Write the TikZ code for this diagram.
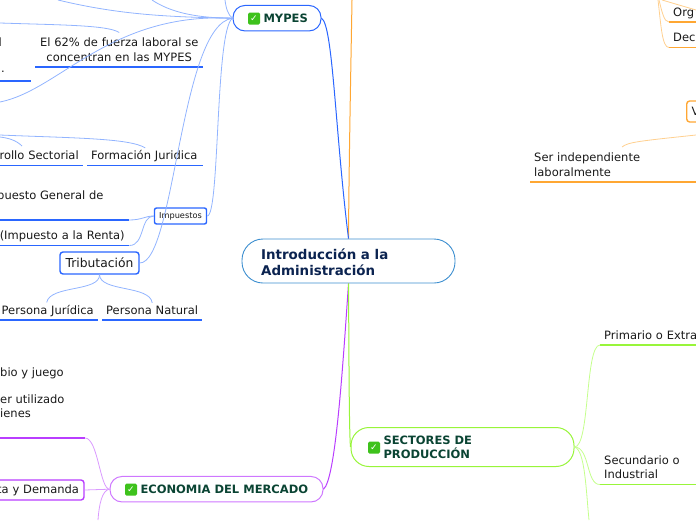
\documentclass[tikz,border=0pt]{standalone}
\usepackage{fontspec}
\setmainfont{DejaVu Sans}
\definecolor{azul}{HTML}{2A66FF}
\definecolor{azulc}{HTML}{92B4FF}
\definecolor{naranja}{HTML}{FFA733}
\definecolor{naranjac}{HTML}{FFD08F}
\definecolor{lila}{HTML}{B93DFF}
\definecolor{lilac}{HTML}{DA9AFF}
\definecolor{lima}{HTML}{98F53A}
\definecolor{limac}{HTML}{C4FF8C}
\definecolor{tinta}{HTML}{0A4433}
\definecolor{marino}{HTML}{0B2350}
\definecolor{celeste}{HTML}{3D8FD0}
\definecolor{verdechk}{HTML}{3EC21C}
\tikzset{every node/.style={inner sep=0pt,text=black!90,font=\fontsize{11.5}{14.2}\selectfont}}
\tikzset{rama/.style={rectangle,rounded corners=12pt,line width=1pt,fill=white,
    font=\fontsize{11.5}{14}\selectfont\bfseries,text=tinta}}
\tikzset{caja/.style={rectangle,rounded corners=3pt,line width=1.4pt,fill=white}}
\tikzset{hoja/.style={anchor=south west,inner xsep=3pt,inner ysep=2.5pt,text depth=3pt,text width=#1-6pt,align=left}}
\tikzset{hojad/.style={hoja=#1,align=right,inner xsep=4.5pt,text width=#1-9pt}}
\tikzset{hojados/.style={hoja=#1,inner ysep=5.5pt,text depth={}}}
\tikzset{chk/.style={rectangle,rounded corners=1.5pt,fill=verdechk,text=white,
    minimum size=12pt,font=\fontsize{9}{9}\selectfont}}
\tikzset{enlace/.style={line width=.8pt}}
\tikzset{raya/.style={line width=1.9pt}}

\begin{document}
\begin{tikzpicture}[x=1pt,y=-1pt]
  \useasboundingbox (0,0) rectangle (696,520);
  \clip (0,0) rectangle (696,520);
      % centro y ramas
      \node[rectangle,rounded corners=21pt,draw=celeste,line width=.9pt,fill=white,
        minimum width=213pt,minimum height=44pt] (raiz) at (348.5,261) {};
      \node[anchor=west,align=left,font=\fontsize{13.4}{16}\selectfont\bfseries,text=marino] (titulo) at (261,262) {Introducción a la\\Administración};
      \node[rama,draw=azul,minimum width=88pt,minimum height=25.5pt] (mypes) at (277,18.2) {};
      \node[chk] (chkm) at (254,18.5) {✓};
      \node[rama,anchor=west,draw=none,fill=none] (tmypes) at (263,18.5) {MYPES};
      \node[rama,draw=lila!70,minimum width=213pt,minimum height=25.5pt] (econ) at (216.5,489.2) {};
      \node[chk] (chke) at (131,489.5) {✓};
      \node[rama,anchor=west,draw=none,fill=none] (tecon) at (140,489.5) {ECONOMIA DEL MERCADO};
      \node[rama,rounded corners=18pt,draw=lima,minimum width=223pt,minimum height=39pt] (sect) at (462.5,447) {};
      \node[chk] (chks) at (374,447.5) {✓};
      \node[rama,anchor=west,draw=none,fill=none,align=left] (tsect) at (383,447.5) {SECTORES DE\\PRODUCCIÓN};
      % azul
      \node[hojados=168pt,align=center] (fuerza) at (35,67) {El 62\% de fuerza laboral se\\concentran en las MYPES};
      \node[hoja=33pt,inner ysep=5pt] (punto) at (-2,81) {.};
      \node[anchor=east] (ele) at (2,42) {l};
      \node[hojad=93pt] (sectorial) at (-10,165.5) {rollo Sectorial};
      \node[hoja=114pt,inner xsep=4pt] (formacion) at (87,165.5) {Formación Juridica};
      \node[anchor=west] (general) at (-3,196.5) {puesto General de};
      \coordinate (gen1) at (0,220);
      \coordinate (gen2) at (129,220);
      \node[hojad=149pt] (renta) at (-20,245.5) {(Impuesto a la Renta)};
      \node[hojad=103pt] (juridica) at (-5,320) {Persona Jurídica};
      \node[hoja=98pt,inner xsep=4pt] (natural) at (102,320) {Persona Natural};
      \node[caja,draw=azul,minimum width=79pt,minimum height=22pt,font=\fontsize{12.3}{15}\selectfont] (tribut) at (99.5,263) {\raisebox{-1pt}{Tributación}};
      \node[caja,rounded corners=2pt,draw=azul,minimum width=52pt,minimum height=16pt,font=\fontsize{8.2}{10}\selectfont] (impuestos) at (180.5,216) {Impuestos};
      \foreach \h in {fuerza,punto,sectorial,formacion,renta,juridica,natural}
        \draw[azul,raya] (\h.south west) -- (\h.south east);
      \draw[azul,raya] (gen1) -- (gen2);
      \coordinate (a1) at (58,0);
      \coordinate (a2) at (152,0);
      \coordinate (a3) at (225,0);
      \coordinate (a4) at (0,102);
      \coordinate (a5) at (0,23);
      \coordinate (a6) at (0,135);
      \coordinate (a7) at (0,137);
      \coordinate (secn) at (22,146);
      \draw[azulc,enlace] (a1) .. controls (120,15) and (170,17) .. (mypes.west);
      \draw[azulc,enlace] (a2) .. controls (170,12) and (195,18) .. (mypes.west);
      \draw[azulc,enlace] (a3) .. controls (226,8) and (228,15) .. (mypes.west);
      \draw[azulc,enlace] (a4) .. controls (60,90) and (110,12) .. (mypes.west);
      \draw[azulc,enlace] (fuerza.north) .. controls (108,25) and (60,25) .. (a5);
      \draw[azulc,enlace] (formacion.north) .. controls (130,138) and (70,138) .. (a6);
      \draw[azulc,enlace] (secn) .. controls (16,140) and (8,138) .. (a7);
      \draw[azulc,enlace] (tribut.east) .. controls (175,263) and (180,25) .. (mypes.west);
      \draw[azulc,enlace] (impuestos.east) .. controls (220,216) and (215,30) .. (mypes.west);
      \draw[azulc,enlace] (impuestos.west) .. controls (145,216) and (142,220) .. (gen2);
      \draw[azulc,enlace] (impuestos.west) .. controls (140,216) and (145,245.5) .. (renta.south east);
      \draw[azulc,enlace] (tribut.south) .. controls (100,292) and (50,285) .. (juridica.north);
      \draw[azulc,enlace] (tribut.south) .. controls (100,292) and (150,285) .. (natural.north);
      % lila
      \node[anchor=west] (juego) at (0,373) {bio y juego};
      \node[anchor=west,align=left] (utilizado) at (0,406.5) {er utilizado\\ienes};
      \node[caja,draw=lila,text width=100pt,align=right,inner xsep=5pt,minimum height=20pt] (oferta) at (29,490) {ta y Demanda};
      \coordinate (o1) at (0,438);
      \coordinate (o2) at (85,438);
      \coordinate (o3) at (98,520);
      \draw[lila,raya] (o1) -- (o2);
      \draw[lilac,enlace] (econ.west) .. controls (100,489) and (98,438) .. (o2);
      \draw[lilac,enlace] (econ.west) -- (oferta.east);
      \draw[lilac,enlace] (econ.west) .. controls (102,490) and (99,505) .. (o3);
      % lima
      \node[hoja=130pt,inner xsep=4pt] (primario) at (600,345) {Primario o Extra};
      \node[hojados=130pt,inner xsep=4pt] (secundario) at (600,484.5) {Secundario o\\Industrial};
      \coordinate (l3) at (589,520);
      \draw[lima,raya] (primario.south west) -- (primario.south east);
      \draw[lima,raya] (secundario.south west) -- (secundario.south east);
      \draw[limac,enlace] (sect.east) .. controls (590,447) and (585,345) .. (primario.south west);
      \draw[limac,enlace] (sect.east) .. controls (590,447) and (586,485) .. (secundario.south west);
      \draw[limac,enlace] (sect.east) .. controls (585,450) and (586,490) .. (l3);
      % naranja
      \node[hoja=60pt,inner xsep=4pt] (org) at (669,22) {Org};
      \node[hoja=60pt,inner xsep=4pt] (dec) at (669,47.5) {Dec};
      \node[hojados=190pt,inner xsep=4pt] (ser) at (530,182) {Ser independiente\\laboralmente};
      \node[caja,draw=naranja,anchor=west,text width=40pt,inner xsep=5pt,minimum height=21pt] (vbox) at (686,111.5) {V};
      \foreach \h in {org,dec,ser}
        \draw[naranja,raya] (\h.south west) -- (\h.south east);
      \coordinate (n1) at (659,0);
      \coordinate (n2) at (658,0);
      \coordinate (n3) at (662,0);
      \coordinate (n4) at (696,10);
      \coordinate (n5) at (696,135);
      \coordinate (sertop) at (622,147);
      \draw[naranjac,enlace] (n1) .. controls (662,12) and (664,22) .. (org.south west);
      \draw[naranjac,enlace] (n2) .. controls (661,25) and (662,47.5) .. (dec.south west);
      \draw[naranjac,enlace] (n3) -- (n4);
      \draw[naranjac,enlace] (sertop) .. controls (628,142) and (640,141) .. (n5);
      % del centro a las ramas
      \coordinate (n0) at (352,0);
      \draw[naranja,line width=1pt] (raiz.north) .. controls (349,160) and (351,60) .. (n0);
      \draw[azul,line width=1pt] (mypes.east) .. controls (333,25) and (335,130) .. (raiz.north);
      \draw[lila,line width=1pt] (raiz.south) .. controls (342,380) and (335,480) .. (econ.east);
      \draw[lima,line width=1pt] (raiz.south) .. controls (349,350) and (349,430) .. (sect.west);
\end{tikzpicture}
\end{document}
